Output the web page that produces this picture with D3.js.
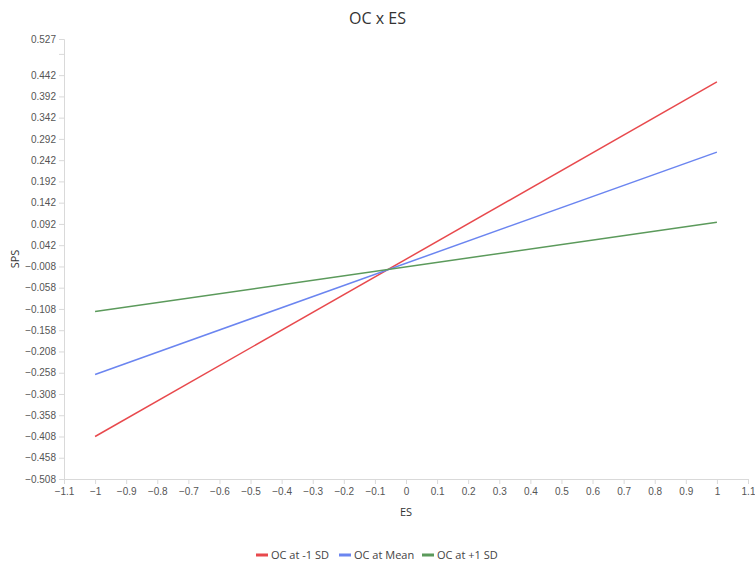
<!DOCTYPE html>
<html>
<head>
<meta charset="utf-8">
<script src="https://cdn.jsdelivr.net/npm/d3@7"></script>
<style>
  body { margin: 0; background: #fff; font-family: "Open Sans", "Noto Sans", sans-serif; }
  .axis path, .axis line { stroke: #d9d9d9; }
  .axis text { fill: #555; font-size: 10px; }
</style>
</head>
<body>
<div id="chart"></div>
<script>
var xValues = [-1, 1]
var seriesNames = ["OC at -1 SD", "OC at Mean", "OC at +1 SD"]
var seriesColors = ["#e8494d", "#6b85f0", "#5b9a5b"]
var lowSD = [-0.408, 0.426]
var meanSD = [-0.262, 0.261]
var highSD = [-0.114, 0.096]
var xTicks = [-1.1, -1, -0.9, -0.8, -0.7, -0.6, -0.5, -0.4, -0.3, -0.2, -0.1, 0, 0.1, 0.2, 0.3, 0.4, 0.5, 0.6, 0.7, 0.8, 0.9, 1, 1.1]
var yTicks = [0.527, 0.492, 0.442, 0.392, 0.342, 0.292, 0.242, 0.192, 0.142, 0.092, 0.042, -0.008, -0.058, -0.108, -0.158, -0.208, -0.258, -0.308, -0.358, -0.408, -0.458, -0.508]
var yHidden = [0.492]

var totalW = 755, totalH = 565
var margin = {top: 39, right: 7, bottom: 86, left: 64}
var width = totalW - margin.left - margin.right
var height = totalH - margin.top - margin.bottom

var svg = d3.select("#chart").append("svg")
    .attr("width", totalW)
    .attr("height", totalH)

var g = svg.append("g")
    .attr("transform", "translate(" + margin.left + "," + margin.top + ")")

var xScale = d3.scaleLinear().domain([-1.1, 1.1]).range([0, width])
var yScale = d3.scaleLinear().domain([-0.508, 0.527]).range([height, 0])

// axes
g.append("g")
    .attr("class", "axis")
    .attr("transform", "translate(0," + height + ")")
    .call(d3.axisBottom(xScale).tickValues(xTicks).tickSize(5).tickPadding(4)
        .tickFormat(function(d) { return d3.format("")(+d.toFixed(1)).replace("-", "\u2212") }))

g.append("g")
    .attr("class", "axis")
    .call(d3.axisLeft(yScale).tickValues(yTicks).tickSize(5).tickPadding(3)
        .tickFormat(function(d) {
            if (yHidden.indexOf(d) >= 0) return ""
            return d.toFixed(3).replace("-", "\u2212").replace(/^(\u2212?)0\./, "$10.")
        }))

g.selectAll(".axis .domain").attr("stroke", "#d9d9d9")

// lines
var allSeries = [lowSD, meanSD, highSD]
var line = d3.line()
    .x(function(d, i) { return xScale(xValues[i]) })
    .y(function(d) { return yScale(d) })

g.selectAll(".series")
    .data(allSeries)
    .enter().append("path")
    .attr("class", "series")
    .attr("fill", "none")
    .attr("stroke", function(d, i) { return seriesColors[i] })
    .attr("stroke-width", 1.5)
    .attr("d", line)

// title and labels
svg.append("text")
    .attr("x", totalW / 2)
    .attr("y", 24)
    .attr("text-anchor", "middle")
    .attr("font-size", 16)
    .attr("fill", "#333")
    .text("OC x ES")

svg.append("text")
    .attr("x", margin.left + width / 2)
    .attr("y", 516)
    .attr("text-anchor", "middle")
    .attr("font-size", 11)
    .attr("fill", "#333")
    .text("ES")

svg.append("text")
    .attr("transform", "translate(19," + (margin.top + height / 2) + ") rotate(-90)")
    .attr("text-anchor", "middle")
    .attr("font-size", 11)
    .attr("fill", "#333")
    .text("SPS")

// legend
var legend = svg.append("g").attr("transform", "translate(256,555)")
var legendX = [0, 83, 166]
seriesNames.forEach(function(name, i) {
    var item = legend.append("g").attr("transform", "translate(" + legendX[i] + ",0)")
    item.append("rect")
        .attr("x", 0).attr("y", -1.5)
        .attr("width", 12).attr("height", 3)
        .attr("fill", seriesColors[i])
    item.append("text")
        .attr("x", 15).attr("y", 4)
        .attr("font-size", 11)
        .attr("fill", "#444")
        .text(name)
})
</script>
</body>
</html>
